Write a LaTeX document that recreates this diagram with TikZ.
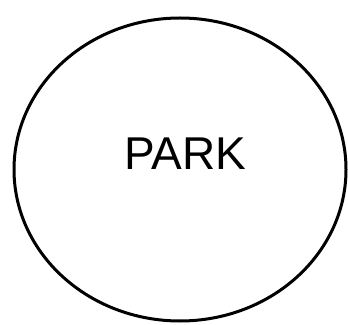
\documentclass[tikz,border=0pt]{standalone}
\usepackage{fontspec}
\setmainfont{Liberation Sans}
\begin{document}
\begin{tikzpicture}[x=1pt,y=1pt,
  entity/.style={draw=black,line width=3pt,fill=white}]
\useasboundingbox (0,0) rectangle (348,324);
\draw[entity] (180,154.5) ellipse [x radius=166, y radius=151.5];
\node[inner sep=0pt,font=\fontsize{46}{50}\selectfont] (park) at (185,170) {PARK};
\end{tikzpicture}
\end{document}
